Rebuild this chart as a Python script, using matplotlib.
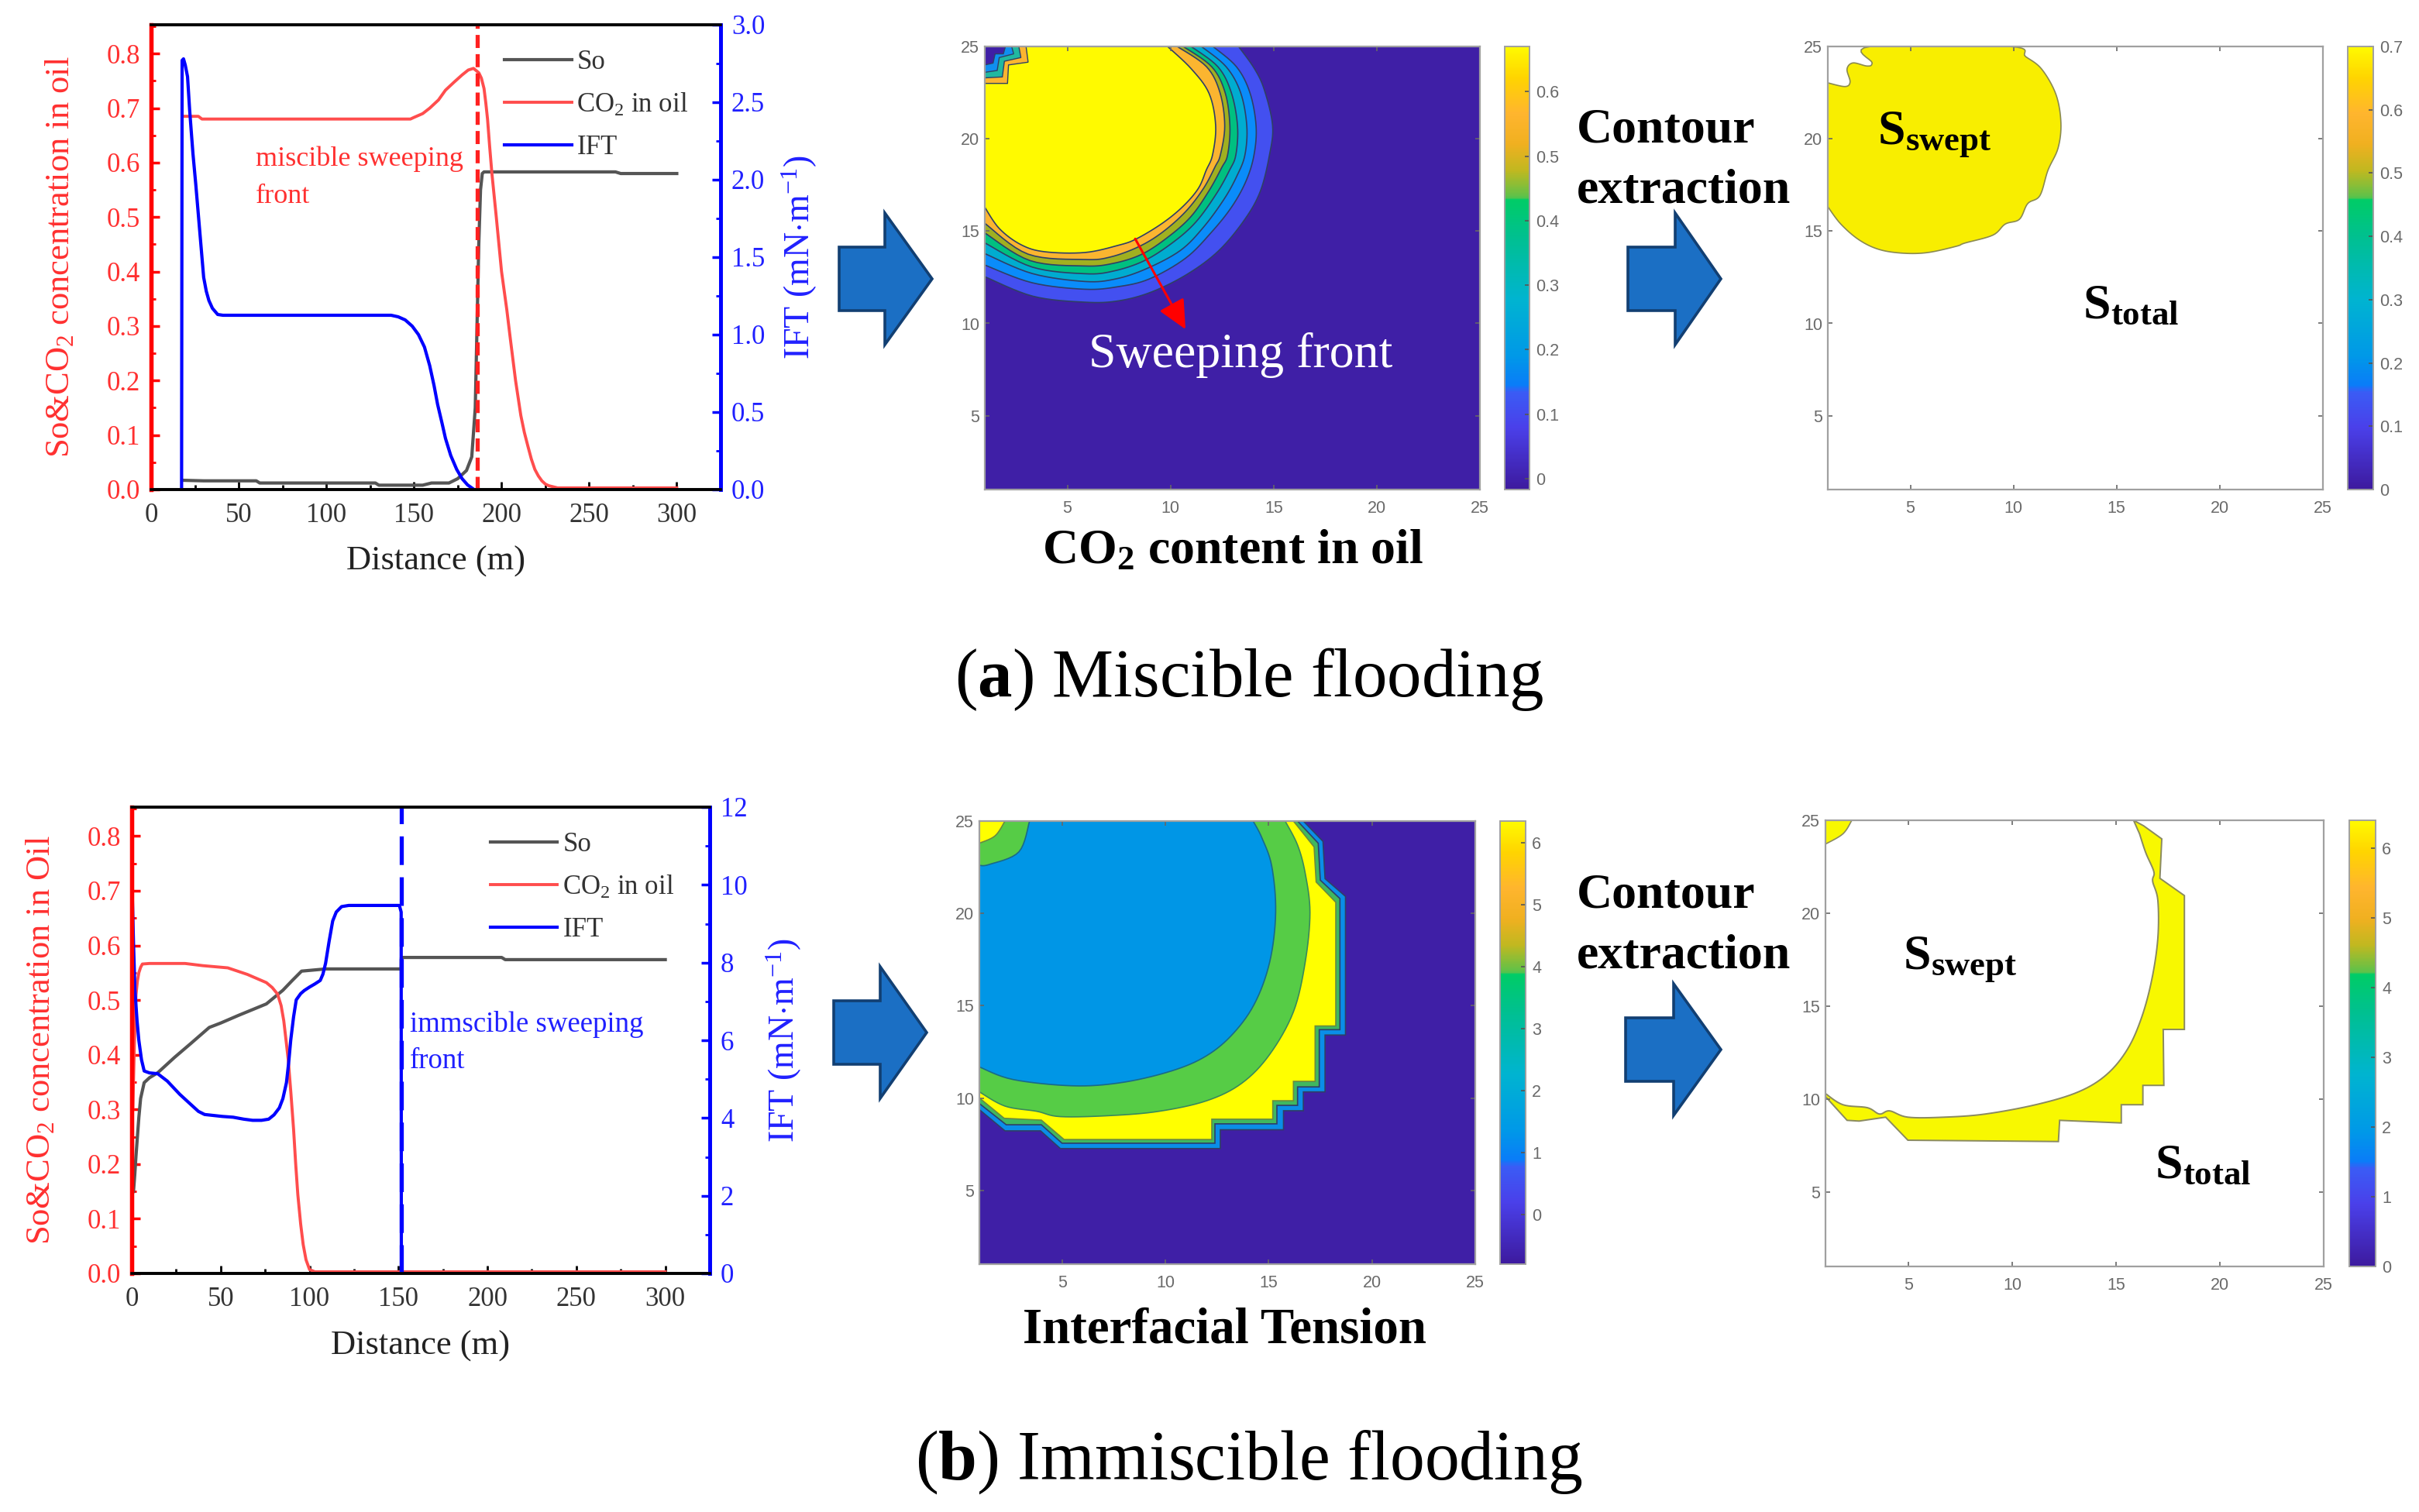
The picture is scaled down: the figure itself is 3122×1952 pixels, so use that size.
import matplotlib
matplotlib.use("Agg")
import matplotlib.pyplot as plt
import numpy as np
from matplotlib.cm import ScalarMappable
from matplotlib.colors import LinearSegmentedColormap, Normalize
from matplotlib.patches import FancyArrowPatch, Polygon
from matplotlib.ticker import MultipleLocator

plt.rcParams['font.family'] = ['Liberation Serif', 'DejaVu Serif']
plt.rcParams['mathtext.fontset'] = 'custom'
plt.rcParams['mathtext.rm'] = 'Liberation Serif'
plt.rcParams['mathtext.it'] = 'Liberation Serif:italic'
plt.rcParams['mathtext.bf'] = 'Liberation Serif:bold'

W, H = 3122, 1952

# ---- miscible flooding profile
a_so_x = [18, 30, 60, 62, 128, 130, 155, 160, 170, 175, 180, 183, 185, 186, 187, 188, 189, 190, 265, 268, 300]
a_so_y = [.017, .016, .016, .012, .012, .008, .008, .012, .012, .02, .035, .06, .15, .3, .45, .55, .58, .583, .583, .58, .58]
a_co2_x = [18, 27, 29, 148, 150, 155, 159, 164, 168, 173, 177.5, 181, 184, 187, 188.5, 190, 191, 192, 193.2, 194.5, 197, 200, 203, 205, 208, 211, 213, 215, 217, 219, 221, 223, 225, 227, 232, 300]
a_co2_y = [.685, .685, .68, .68, .683, .69, .70, .715, .733, .748, .761, .77, .773, .765, .755, .736, .71, .68, .63, .58, .50, .40, .33, .277, .20, .136, .105, .08, .056, .037, .025, .016, .01, .007, .003, .003]
a_ift_x = [17.4, 17.7, 18.5, 19.5, 20.8, 22, 23, 23.9, 25.5, 27, 28.5, 30, 31.5, 33, 35, 38, 41, 137, 141, 145, 149, 152.6, 156, 159, 161.5, 163.5, 166, 168, 171, 174.4, 177.5, 180.6, 183.7]
a_ift_y = [0, 2.77, 2.78, 2.74, 2.665, 2.45, 2.3, 2.167, 1.97, 1.77, 1.57, 1.37, 1.28, 1.22, 1.17, 1.13, 1.125, 1.125, 1.115, 1.095, 1.055, 1.0, .92, .80, .67, .55, .43, .33, .22, .13, .07, .03, .005]
a_front = 186

# ---- immiscible flooding profile
b_so_x = [1, 1.7, 2.4, 3.2, 4, 5, 7, 10, 14.6, 24, 33, 43.6, 50, 60, 75.7, 85, 90, 95.5, 109, 151.5, 151.6, 208, 210, 300]
b_so_y = [.15, .18, .215, .25, .285, .32, .349, .358, .367, .395, .42, .45, .458, .472, .493, .518, .535, .553, .557, .557, .578, .578, .574, .574]
b_co2_x = [.6, 1.5, 2.4, 3.2, 4, 5, 6, 10, 30, 40, 54, 65, 75.7, 79, 82, 84, 85.5, 87, 88, 89.5, 91, 92.2, 93.4, 95, 96.4, 98, 100, 103, 300]
b_co2_y = [.30, .42, .51, .535, .55, .56, .566, .567, .567, .563, .559, .547, .532, .523, .511, .49, .462, .42, .391, .33, .264, .2, .144, .09, .053, .025, .007, .003, .003]
b_ift_x = [.3, 1, 1.8, 3, 4, 5.5, 7, 10, 14.6, 20, 27, 32, 37.5, 41, 45, 51, 57, 63, 68, 73, 77, 80, 83, 85, 87, 88.2, 89.4, 91, 92.5, 95, 97, 100, 103, 106, 107.5, 109, 111, 113, 115, 118, 122, 150.5, 151.5, 151.6]
b_ift_y = [9.77, 8.5, 7.29, 6.5, 6.0, 5.5, 5.21, 5.16, 5.14, 4.95, 4.61, 4.4, 4.17, 4.09, 4.07, 4.04, 4.02, 3.97, 3.94, 3.94, 3.97, 4.08, 4.26, 4.5, 4.91, 5.4, 6.0, 6.6, 7.04, 7.2, 7.28, 7.37, 7.45, 7.54, 7.7, 7.98, 8.55, 9.07, 9.3, 9.44, 9.47, 9.47, 9.3, 0]
b_front = 151.5

x_ticks = [0, 50, 100, 150, 200, 250, 300]
left_ticks = [0.0, 0.1, 0.2, 0.3, 0.4, 0.5, 0.6, 0.7, 0.8]
a_ift_ticks = [0.0, 0.5, 1.0, 1.5, 2.0, 2.5, 3.0]
b_ift_ticks = [0, 2, 4, 6, 8, 10, 12]

# ---- contour outlines (grid units), outer band first
co2_outlines = [
    [(1, 12.53), (3.34, 11.47), (5.85, 11.15), (7.47, 11.22), (9.1, 11.71), (10.85, 12.69), (12.35, 13.95), (13.6, 15.63), (14.36, 17.17), (14.8, 19.13), (14.95, 20.72), (14.55, 22.65), (14.07, 23.8), (13.3, 25)],
    [(1, 13.16), (3.3, 12.2), (5.85, 11.85), (7.47, 11.99), (8.98, 12.41), (10.73, 13.53), (11.98, 14.93), (12.98, 16.33), (13.67, 17.73), (14.05, 19.13), (14.15, 20.7), (13.85, 22.5), (13.2, 23.9), (12.06, 25)],
    [(1, 13.78), (3.3, 12.7), (5.85, 12.27), (7.35, 12.41), (8.85, 12.97), (10.48, 13.95), (11.6, 15.21), (12.61, 16.75), (13.23, 18.01), (13.61, 19.13), (13.7, 20.7), (13.4, 22.5), (12.7, 23.9), (11.5, 25)],
    [(1, 14.36), (3.3, 13.05), (5.85, 12.69), (7.22, 12.83), (8.72, 13.39), (10.1, 14.37), (11.23, 15.49), (12.23, 17.03), (12.86, 18.29), (13.17, 19.13), (13.25, 20.7), (12.95, 22.5), (12.3, 23.9), (11.0, 25)],
    [(1, 14.9), (3.2, 13.4), (5.85, 13.11), (7.22, 13.25), (8.6, 13.74), (9.85, 14.65), (10.98, 15.77), (11.86, 17.17), (12.48, 18.43), (12.77, 19.13), (12.88, 20.7), (12.65, 22.5), (12.0, 23.9), (10.62, 25)],
    [(1, 15.42), (3.1, 13.75), (5.85, 13.46), (7.1, 13.6), (8.47, 14.16), (9.6, 14.93), (10.73, 16.05), (11.6, 17.31), (12.17, 18.5), (12.42, 19.13), (12.63, 20.7), (12.4, 22.5), (11.75, 23.9), (10.33, 25)],
    [(1, 16.29), (1.71, 15.13), (2.76, 14.26), (3.91, 13.88), (5.85, 13.84), (7.47, 14.23), (8.35, 14.58), (9.6, 15.42), (10.6, 16.33), (11.35, 17.31), (11.73, 18.29), (12.04, 19.13), (12.19, 20.72), (11.87, 22.46), (11.0, 23.8), (9.86, 25)],
]
co2_colors = ['#4350f0', '#0a8cfa', '#00acd0', '#00c080', '#a0b020', '#fbb530', '#fffa00']
co2_corner = [
    [(1, 23.0), (2.1, 23.0), (2.15, 24.0), (3.1, 24.15), (3.0, 25), (1, 25)],
    [(1, 23.3), (1.85, 23.35), (1.95, 24.2), (2.75, 24.4), (2.65, 25), (1, 25)],
    [(1, 23.6), (1.6, 23.7), (1.7, 24.4), (2.4, 24.6), (2.3, 25), (1, 25)],
    [(1, 24.0), (1.4, 24.1), (1.5, 24.6), (1.9, 24.6), (2.0, 25), (1, 25)],
]
co2_corner_colors = ['#fbb530', '#20b8a0', '#0f8ff0', '#3f1fa6']

ift_step_azure = [(1, 9.37), (2.24, 8.22), (3.96, 8.22), (4.92, 7.26), (12.66, 7.26), (12.66, 8.28), (15.72, 8.28), (15.72, 9.31), (16.68, 9.31), (16.68, 10.33), (17.73, 10.33), (17.73, 13.41), (18.72, 13.41), (18.72, 20.92), (17.73, 21.88), (17.63, 23.9), (16.68, 25)]
ift_step_green = [(1, 9.7), (2.3, 8.55), (4, 8.55), (5, 7.55), (12.4, 7.55), (12.4, 8.6), (15.4, 8.6), (15.4, 9.6), (16.4, 9.6), (16.4, 10.6), (17.45, 10.6), (17.45, 13.7), (18.45, 13.7), (18.45, 20.8), (17.5, 21.8), (17.4, 23.8), (16.4, 25)]
ift_step_yellow = [(1, 10.0), (2.2, 8.9), (4, 8.8), (5.1, 7.75), (12.25, 7.75), (12.25, 8.85), (15.2, 8.85), (15.2, 9.85), (16.2, 9.85), (16.2, 10.9), (17.25, 10.9), (17.25, 13.9), (18.25, 13.9), (18.25, 20.6), (17.3, 21.7), (17.2, 23.6), (16.2, 25)]
ift_big_green = [(1, 10.33), (2.24, 9.56), (3.77, 9.28), (4.92, 8.99), (7.4, 9.05), (9.7, 9.28), (12, 9.85), (13.7, 10.8), (15.05, 12.36), (16.2, 14.67), (16.77, 17.36), (17.0, 20.05), (16.77, 22.17), (16.4, 23.7), (15.8, 25)]
ift_big_azure = [(1, 11.68), (2.63, 11.0), (5.49, 10.66), (7.79, 10.82), (10.08, 11.39), (11.8, 12.16), (13.14, 13.32), (14.29, 15.05), (15.05, 17.36), (15.34, 20.05), (15.15, 22.56), (14.67, 24.1), (14.25, 25)]
ift_cut = [(3.43, 25), (2.91, 23.33), (1.48, 22.65), (1, 22.6)]
ift_corner = [(2.24, 25), (1.76, 24.2), (1, 23.8)]

swept_a = [(1, 16.32), (1.63, 15.38), (2.52, 14.52), (3.5, 14.0), (4.68, 13.8), (5.86, 13.84), (7.24, 14.18), (7.64, 14.35), (9.0, 14.78), (9.6, 15.38), (10.29, 15.64), (10.69, 16.49), (11.28, 16.92), (11.67, 18.29), (12.16, 19.49), (12.3, 20.86), (12.06, 22.4), (11.37, 23.77), (10.59, 24.45), (9.8, 25), (3.07, 25), (3.15, 24.11), (2.91, 23.94), (2.22, 24.11), (1.93, 23.77), (2.08, 23.08), (1.83, 22.83), (1, 23.03)]
ring_b_outer = [(1, 10.14), (2.04, 8.86), (2.62, 8.82), (3.9, 9.03), (4.97, 7.79), (12.22, 7.72), (12.28, 8.86), (15.25, 8.72), (15.25, 9.7), (16.29, 9.7), (16.29, 10.74), (17.3, 10.74), (17.27, 13.75), (18.29, 13.75), (18.29, 20.95), (17.11, 21.88), (17.2, 24.0), (16.33, 24.7), (15.84, 25)]
ring_b_inner = [(16.13, 24.27), (16.43, 23.25), (16.82, 22.23), (16.76, 21.72), (17.01, 20.7), (17.01, 18.65), (16.72, 16.44), (16.23, 14.4), (15.55, 12.69), (14.55, 11.33), (13.2, 10.4), (11.2, 9.72), (8.7, 9.2), (6.7, 9.03), (4.97, 9.03), (4.09, 9.37), (3.6, 9.2), (3.02, 9.54), (1.84, 9.7), (1, 10.3)]
corner_b = [(2.27, 25), (1.84, 24.27), (1, 23.72)]

grid_ticks = [5, 10, 15, 20, 25]

# colour bar of the contour panels
parula = LinearSegmentedColormap.from_list('parula_like', [
    (0.0, '#3d1a9e'), (0.14, '#4a40ea'), (0.22, '#3a5cf5'), (0.235, '#0a7cf8'), (0.30, '#0098e8'),
    (0.43, '#00b4d0'), (0.57, '#00c090'), (0.655, '#00cc66'), (0.66, '#5cc24a'), (0.72, '#c0b820'),
    (0.78, '#f0b020'), (0.85, '#ffb52e'), (0.93, '#ffd400'), (1.0, '#fffa00')], N=512)


def px_axes(x0, y0, x1, y1):
    return fig.add_axes([x0 / W, 1 - y1 / H, (x1 - x0) / W, (y1 - y0) / H])


# rounds an outline for drawing, still passing through the read vertices
def smooth(pts, steps=8):
    p = np.array(pts, dtype=float)
    p = np.vstack([p[0], p, p[-1]])
    out = []
    for i in range(1, len(p) - 2):
        for t in np.linspace(0, 1, steps, endpoint=False):
            out.append(0.5 * (2 * p[i] + (p[i + 1] - p[i - 1]) * t
                              + (2 * p[i - 1] - 5 * p[i] + 4 * p[i + 1] - p[i + 2]) * t ** 2
                              + (3 * p[i] - p[i - 1] - 3 * p[i + 1] + p[i + 2]) * t ** 3))
    out.append(p[-2])
    return np.array(out)


def fill_region(ax, pts, color, edge='#2f3f66', lw=1.2):
    pts = np.vstack([pts, [(1, 25)]])
    ax.fill(pts[:, 0], pts[:, 1], facecolor=color, edgecolor=edge, linewidth=lw)


def profile_panel(box, so, co2, ift, ift_ticks, ift_top, ift_minor, front, front_color, dash, ylabel, lab_x, rlab_x):
    ax = px_axes(*box)
    ax.set_xlim(0, 325)
    ax.set_ylim(0, 0.853)
    ax.plot(so[0], so[1], color='#555555', lw=3, label='So')
    ax.plot(co2[0], co2[1], color='#ff4d4d', lw=2.8, label=r'CO$_2$ in oil')
    ax.plot([front, front], [0, 0.853], color=front_color, lw=3.8, ls=(0, dash), zorder=3)
    ax2 = ax.twinx()
    ax2.set_ylim(0, ift_top)
    line, = ax2.plot(ift[0], ift[1], color='#0000ff', lw=3, label='IFT')

    ax.set_xticks(x_ticks)
    ax.set_yticks(left_ticks)
    ax.set_yticklabels(['%.1f' % v for v in left_ticks])
    ax.xaxis.set_minor_locator(MultipleLocator(25))
    ax.yaxis.set_minor_locator(MultipleLocator(0.05))
    ax2.set_yticks(ift_ticks)
    ax2.yaxis.set_minor_locator(MultipleLocator(ift_minor))
    ax.tick_params(axis='x', which='major', direction='in', length=7, width=2, labelsize=25, labelcolor='#333333', pad=12)
    ax.tick_params(axis='x', which='minor', direction='in', length=4, width=2)
    ax.tick_params(axis='y', which='major', direction='in', length=8, width=2.5, color='#ff0000', labelsize=25, labelcolor='#ff3030', pad=10)
    ax.tick_params(axis='y', which='minor', direction='in', length=4, width=2, color='#ff0000')
    ax2.tick_params(axis='y', which='major', direction='in', length=8, width=2.5, color='#0000ff', labelsize=25, labelcolor='#2020ff', pad=10)
    ax2.tick_params(axis='y', which='minor', direction='in', length=4, width=2, color='#0000ff')

    for a in (ax, ax2):
        a.spines['top'].set_linewidth(2.6)
        a.spines['bottom'].set_linewidth(2.6)
        a.spines['left'].set_color('#ff0000')
        a.spines['left'].set_linewidth(3.8)
        a.spines['right'].set_color('#0000ff')
        a.spines['right'].set_linewidth(3.4)

    ax.set_xlabel('Distance (m)', fontsize=32, color='#222222', va='center')
    ax.xaxis.set_label_coords(0.5, -0.155)
    ax.set_ylabel(ylabel, fontsize=32, color='#ff3030', va='center')
    ax.yaxis.set_label_coords(lab_x, 0.5)
    ax2.set_ylabel(r'IFT (mN$\cdot$m$^{-1}$)', fontsize=33, color='#2020ff', va='center')
    ax2.yaxis.set_label_coords(rlab_x, 0.5)

    h, l = ax.get_legend_handles_labels()
    ax2.legend(h + [line], l + ['IFT'], loc='upper left', bbox_to_anchor=(0.62, 0.947), frameon=False, fontsize=25,
               labelcolor='#333333', handlelength=2.5, handletextpad=0.2, labelspacing=0.62, borderaxespad=0, borderpad=0)
    return ax


def grid_panel(box):
    ax = px_axes(*box)
    ax.set_xlim(1, 25)
    ax.set_ylim(1, 25)
    ax.set_xticks(grid_ticks)
    ax.set_yticks(grid_ticks)
    ax.tick_params(direction='in', top=True, right=True, length=4, width=1.2, color='#666666', labelsize=15.5,
                   labelcolor='#6a6a6a', labelfontfamily='Liberation Sans', pad=10)
    ax.tick_params(axis='y', pad=5)
    for s in ax.spines.values():
        s.set_color('#a0a0a0')
        s.set_linewidth(1.6)
        s.set_zorder(5)
    return ax


def add_cbar(box, vmin, vmax, ticks, labels):
    cax = px_axes(*box)
    cb = fig.colorbar(ScalarMappable(Normalize(vmin, vmax), parula), cax=cax)
    cb.set_ticks(ticks)
    cb.set_ticklabels(labels)
    cb.ax.tick_params(direction='in', length=4, width=1.2, color='#555555', labelsize=15.5, labelcolor='#6a6a6a',
                      labelfontfamily='Liberation Sans', pad=6)
    cb.outline.set_edgecolor('#a0a0a0')
    cb.outline.set_linewidth(1.4)


def block_arrow(x0, xh, xt, yc):
    pts = [(x0, yc - 41), (xh, yc - 41), (xh, yc - 85), (xt, yc), (xh, yc + 85), (xh, yc + 41), (x0, yc + 41)]
    pts = [(x / W, 1 - y / H) for x, y in pts]
    fig.add_artist(Polygon(pts, closed=True, transform=fig.transFigure, facecolor='#1b6fc4', edgecolor='#123f72',
                           linewidth=2.6, joinstyle='miter'))


def sub_s(ax, x, y, sub):
    ax.text(x, y, r'$\mathbf{S_{%s}}$' % sub, fontsize=46, color='black', ha='left', va='baseline')


def fig_text(x, y, s, **kw):
    fig.text(x / W, 1 - y / H, s, **kw)


fig = plt.figure(figsize=(W / 100, H / 100), dpi=100, facecolor='white')

# left column
ax_a = profile_panel((195, 32, 930, 632), (a_so_x, a_so_y), (a_co2_x, a_co2_y), (a_ift_x, a_ift_y), a_ift_ticks, 3.0, 0.25,
                     a_front, '#ff2020', (3.2, 1.5), r'So&CO$_2$ concentration in oil', -0.16, 1.138)
ax_a.text(59.6, 0.607, 'miscible sweeping', color='#ff3030', fontsize=26, va='center')
ax_a.text(59.6, 0.538, 'front', color='#ff3030', fontsize=26, va='center')

ax_b = profile_panel((170, 1042, 916, 1644), (b_so_x, b_so_y), (b_co2_x, b_co2_y), (b_ift_x, b_ift_y), b_ift_ticks, 12, 1,
                     b_front, '#0000ff', (7, 3), r'So&CO$_2$ concentration in Oil', -0.157, 1.128)
ax_b.text(156.5, 0.455, 'immscible sweeping', color='#2020ff', fontsize=26.5, va='center')
ax_b.text(156.5, 0.388, 'front', color='#2020ff', fontsize=26.5, va='center')

# CO2 contour
ax = grid_panel((1271, 60, 1910, 632))
ax.set_facecolor('#3f1fa6')
for outline, c in zip(co2_outlines, co2_colors):
    fill_region(ax, smooth(outline), c)
for outline, c in zip(co2_corner, co2_corner_colors):
    ax.fill(*zip(*outline), facecolor=c, edgecolor='#2f3f66', linewidth=1)
ax.add_patch(FancyArrowPatch((8.29, 14.58), (10.73, 9.68), arrowstyle='-|>,head_length=2.3,head_width=1.1', mutation_scale=10,
                             color='#ff0000', lw=2.2, shrinkA=0, shrinkB=0, zorder=6))
ax.text(13.4, 8.3, 'Sweeping front', color='white', fontsize=46, ha='center', va='center')
add_cbar((1942, 60, 1974, 632), -0.017, 0.67, [0, 0.1, 0.2, 0.3, 0.4, 0.5, 0.6], ['0', '0.1', '0.2', '0.3', '0.4', '0.5', '0.6'])
fig_text(1591, 727, r'CO$_\mathbf{2}$ content in oil', fontsize=46, fontweight='bold', ha='center', va='baseline')

# swept area, miscible
ax = grid_panel((2359, 60, 2998, 632))
fill_region(ax, smooth(swept_a), '#f8ee00', edge='#8a8a50')
sub_s(ax, 3.4, 19.75, 'swept')
sub_s(ax, 13.34, 10.25, 'total')
add_cbar((3030, 60, 3063, 632), 0, 0.7, [0, 0.1, 0.2, 0.3, 0.4, 0.5, 0.6, 0.7], ['0', '0.1', '0.2', '0.3', '0.4', '0.5', '0.6', '0.7'])

# IFT contour
ax = grid_panel((1264, 1060, 1904, 1632))
ax.set_facecolor('#3f1fa6')
fill_region(ax, np.array(ift_step_azure), '#0a8ee8')
fill_region(ax, np.array(ift_step_green), '#3fb860')
fill_region(ax, np.array(ift_step_yellow), '#ffff00', edge='#6a8a40')
fill_region(ax, smooth(ift_big_green), '#56cc46', edge='#3a8a5a')
big = np.vstack([smooth(ift_big_azure)[::-1], smooth(ift_cut)[::-1]])
ax.fill(big[:, 0], big[:, 1], facecolor='#0096e6', edgecolor='#1a6a88', linewidth=1.2)
fill_region(ax, smooth(ift_corner), '#ffff00', edge='#6a8a40')
add_cbar((1936, 1060, 1969, 1632), -0.8, 6.35, [0, 1, 2, 3, 4, 5, 6], ['0', '1', '2', '3', '4', '5', '6'])
fig_text(1581, 1734, 'Interfacial Tension', fontsize=46.7, fontweight='bold', ha='center', va='baseline')

# swept area, immiscible
ax = grid_panel((2356, 1059, 2999, 1635))
ring = np.vstack([ring_b_outer, smooth(ring_b_inner)])
ax.fill(ring[:, 0], ring[:, 1], facecolor='#f8f800', edgecolor='#8a8a60', linewidth=1.4)
fill_region(ax, smooth(corner_b), '#f8f800', edge='#8a8a60')
sub_s(ax, 4.72, 17.03, 'swept')
sub_s(ax, 16.88, 5.75, 'total')
add_cbar((3032, 1059, 3066, 1635), 0, 6.4, [0, 1, 2, 3, 4, 5, 6], ['0', '1', '2', '3', '4', '5', '6'])

# block arrows
block_arrow(1083, 1142, 1203, 360)
block_arrow(2101, 2162, 2221, 360)
block_arrow(1076, 1136, 1196, 1333)
block_arrow(2098, 2160, 2221, 1355)

for y, s in zip((168, 246, 1156, 1234), ('Contour', 'extraction', 'Contour', 'extraction')):
    fig_text(2035, y, s, fontsize=46, fontweight='bold', ha='left', va='center')

fig_text(1612, 899, r'($\mathbf{a}$) Miscible flooding', fontsize=64, ha='center', va='baseline')
fig_text(1612, 1910, r'($\mathbf{b}$) Immiscible flooding', fontsize=64.5, ha='center', va='baseline')

fig.savefig('out.png', dpi=100)
